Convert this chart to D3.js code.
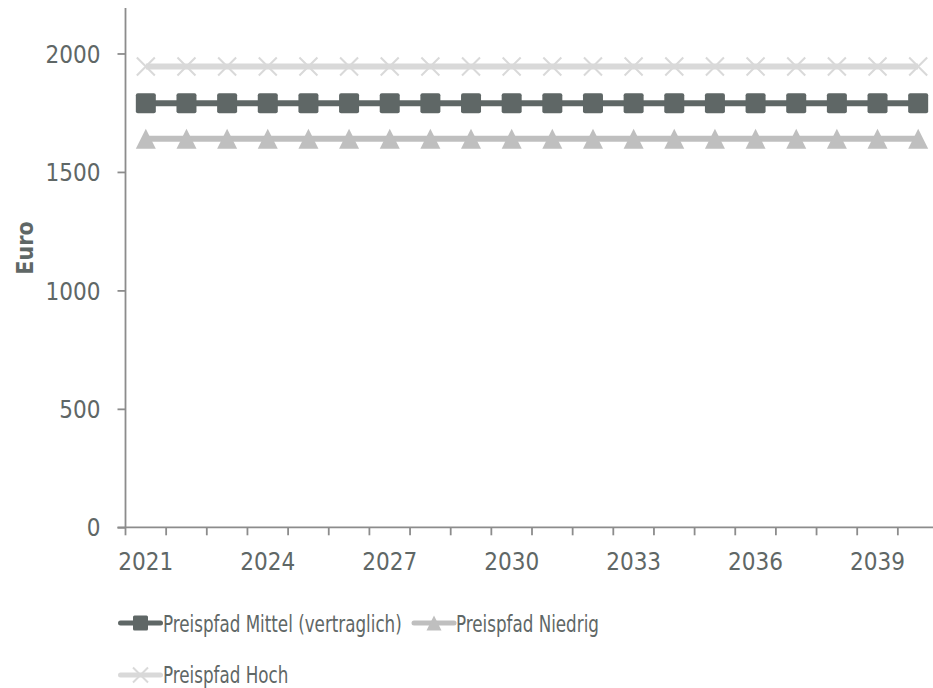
<!DOCTYPE html>
<html>
<head>
<meta charset="utf-8">
<script src="https://cdn.jsdelivr.net/npm/d3@7"></script>
<style>
  html, body { margin: 0; padding: 0; background: #ffffff; }
  svg { display: block; }
  .lbl { font-family: "DejaVu Sans Condensed", "DejaVu Sans", sans-serif; fill: #5f6766; }
  .leg { font-family: "DejaVu Sans Condensed", "DejaVu Sans", sans-serif; fill: #5f6766; }
</style>
</head>
<body>
<svg id="chart" width="933" height="688"></svg>
<script>
// Jahre (Kategorien der x-Achse)
const years = [2021, 2022, 2023, 2024, 2025, 2026, 2027, 2028, 2029, 2030,
               2031, 2032, 2033, 2034, 2035, 2036, 2037, 2038, 2039, 2040];
// beschriftete Jahre
const yearLabels = [2021, 2024, 2027, 2030, 2033, 2036, 2039];
// Werte der y-Achse
const yTicks = [0, 500, 1000, 1500, 2000];

// Preispfade in Euro
const mittel  = [1790, 1790, 1790, 1790, 1790, 1790, 1790, 1790, 1790, 1790,
                 1790, 1790, 1790, 1790, 1790, 1790, 1790, 1790, 1790, 1790];
const niedrig = [1640, 1640, 1640, 1640, 1640, 1640, 1640, 1640, 1640, 1640,
                 1640, 1640, 1640, 1640, 1640, 1640, 1640, 1640, 1640, 1640];
const hoch    = [1945, 1945, 1945, 1945, 1945, 1945, 1945, 1945, 1945, 1945,
                 1945, 1945, 1945, 1945, 1945, 1945, 1945, 1945, 1945, 1945];

const seriesNames = ["Preispfad Mittel (vertraglich)", "Preispfad Niedrig", "Preispfad Hoch"];

const series = [
  { name: seriesNames[0], values: mittel,  color: "#5f6766", marker: "square" },
  { name: seriesNames[1], values: niedrig, color: "#bfbfbf", marker: "triangle" },
  { name: seriesNames[2], values: hoch,    color: "#d9d9d9", marker: "cross" }
];

const svg = d3.select("#chart");
const axisColor = "#8c8c8c";

const x0 = 125.5, bandW = 40.65;
const x = d3.scaleBand().domain(years).range([x0, x0 + bandW * years.length]).paddingInner(0).paddingOuter(0);
const y = d3.scaleLinear().domain([0, 2200]).range([527.3, 6.1]);

// y-Achse
const yAxis = d3.axisLeft(y).tickValues(yTicks).tickSize(8).tickPadding(17).tickFormat(d3.format("d"));
const gy = svg.append("g").attr("transform", `translate(${x0},0)`).call(yAxis);
gy.select(".domain").attr("stroke", axisColor).attr("stroke-width", 1.8).attr("d", `M0,${y(2192)}V${y(0)}`);
gy.selectAll(".tick line").attr("stroke", axisColor).attr("stroke-width", 1.8);
gy.selectAll(".tick text").attr("class", "lbl").style("font-size", "24px").attr("fill", "#5f6766").attr("dy", "0.36em");

// x-Achse: Linie, Teilstriche an den Kategoriegrenzen, Beschriftung mittig
const gx = svg.append("g").attr("transform", `translate(0,${y(0)})`);
const xr = x.range();
gx.append("line").attr("x1", xr[0] - 8).attr("x2", xr[1]).attr("y1", 0).attr("y2", 0)
  .attr("stroke", axisColor).attr("stroke-width", 1.8);
const edges = years.map(d => x(d)).concat([xr[1]]);
gx.selectAll("line.tk").data(edges).enter().append("line").attr("class", "tk")
  .attr("x1", d => d).attr("x2", d => d).attr("y1", 0).attr("y2", 8)
  .attr("stroke", axisColor).attr("stroke-width", 1.8);
gx.selectAll("text").data(yearLabels).enter().append("text")
  .attr("class", "lbl").style("font-size", "24px")
  .attr("x", d => x(d) + x.bandwidth() / 2).attr("y", 43)
  .attr("text-anchor", "middle").text(d => d);

// Achsentitel
svg.append("text").attr("class", "lbl")
  .attr("transform", "translate(33,248) rotate(-90)")
  .attr("text-anchor", "middle")
  .style("font-size", "23px").style("font-weight", "bold")
  .text("Euro");

function drawMarker(g, type, cx, cy, size, color) {
  if (type === "square") {
    g.append("rect").attr("x", cx - size / 2).attr("y", cy - size / 2)
      .attr("width", size).attr("height", size).attr("rx", size * 0.1)
      .attr("fill", color);
  } else if (type === "triangle") {
    const h = size;
    g.append("path")
      .attr("d", `M${cx},${cy - h / 2}L${cx + size / 2},${cy + h / 2}L${cx - size / 2},${cy + h / 2}Z`)
      .attr("fill", color);
  } else {
    const r = size / 2;
    g.append("path")
      .attr("d", `M${cx - r},${cy - r}L${cx + r},${cy + r}M${cx - r},${cy + r}L${cx + r},${cy - r}`)
      .attr("stroke", color).attr("stroke-width", 2).attr("fill", "none");
  }
}

// Linien mit Markern
const cxOf = d => x(d) + x.bandwidth() / 2;
series.forEach(s => {
  const g = svg.append("g");
  const pts = years.map((yr, i) => [cxOf(yr), y(s.values[i])]);
  g.append("path").attr("d", d3.line()(pts))
    .attr("fill", "none").attr("stroke", s.color).attr("stroke-width", 6);
  pts.forEach(p => drawMarker(g, s.marker, p[0], p[1], s.marker === "cross" ? 18 : 20, s.color));
});

// Legende (schmal gesetzte Schrift)
const legendItems = [
  { s: series[0], lx: 120.5, ly: 623, tx: 163, ty: 632 },
  { s: series[1], lx: 414,   ly: 623, tx: 456, ty: 632 },
  { s: series[2], lx: 120.5, ly: 675, tx: 163, ty: 683 }
];
legendItems.forEach(it => {
  const g = svg.append("g");
  g.append("line").attr("x1", it.lx).attr("x2", it.lx + 40).attr("y1", it.ly).attr("y2", it.ly)
    .attr("stroke", it.s.color).attr("stroke-width", 5).attr("stroke-linecap", "round");
  drawMarker(g, it.s.marker, it.lx + 20, it.ly, 15, it.s.color);
  g.append("text").attr("class", "leg").style("font-size", "23px")
    .attr("transform", `translate(${it.tx},${it.ty}) scale(0.81,1)`)
    .text(it.s.name);
});
</script>
</body>
</html>
